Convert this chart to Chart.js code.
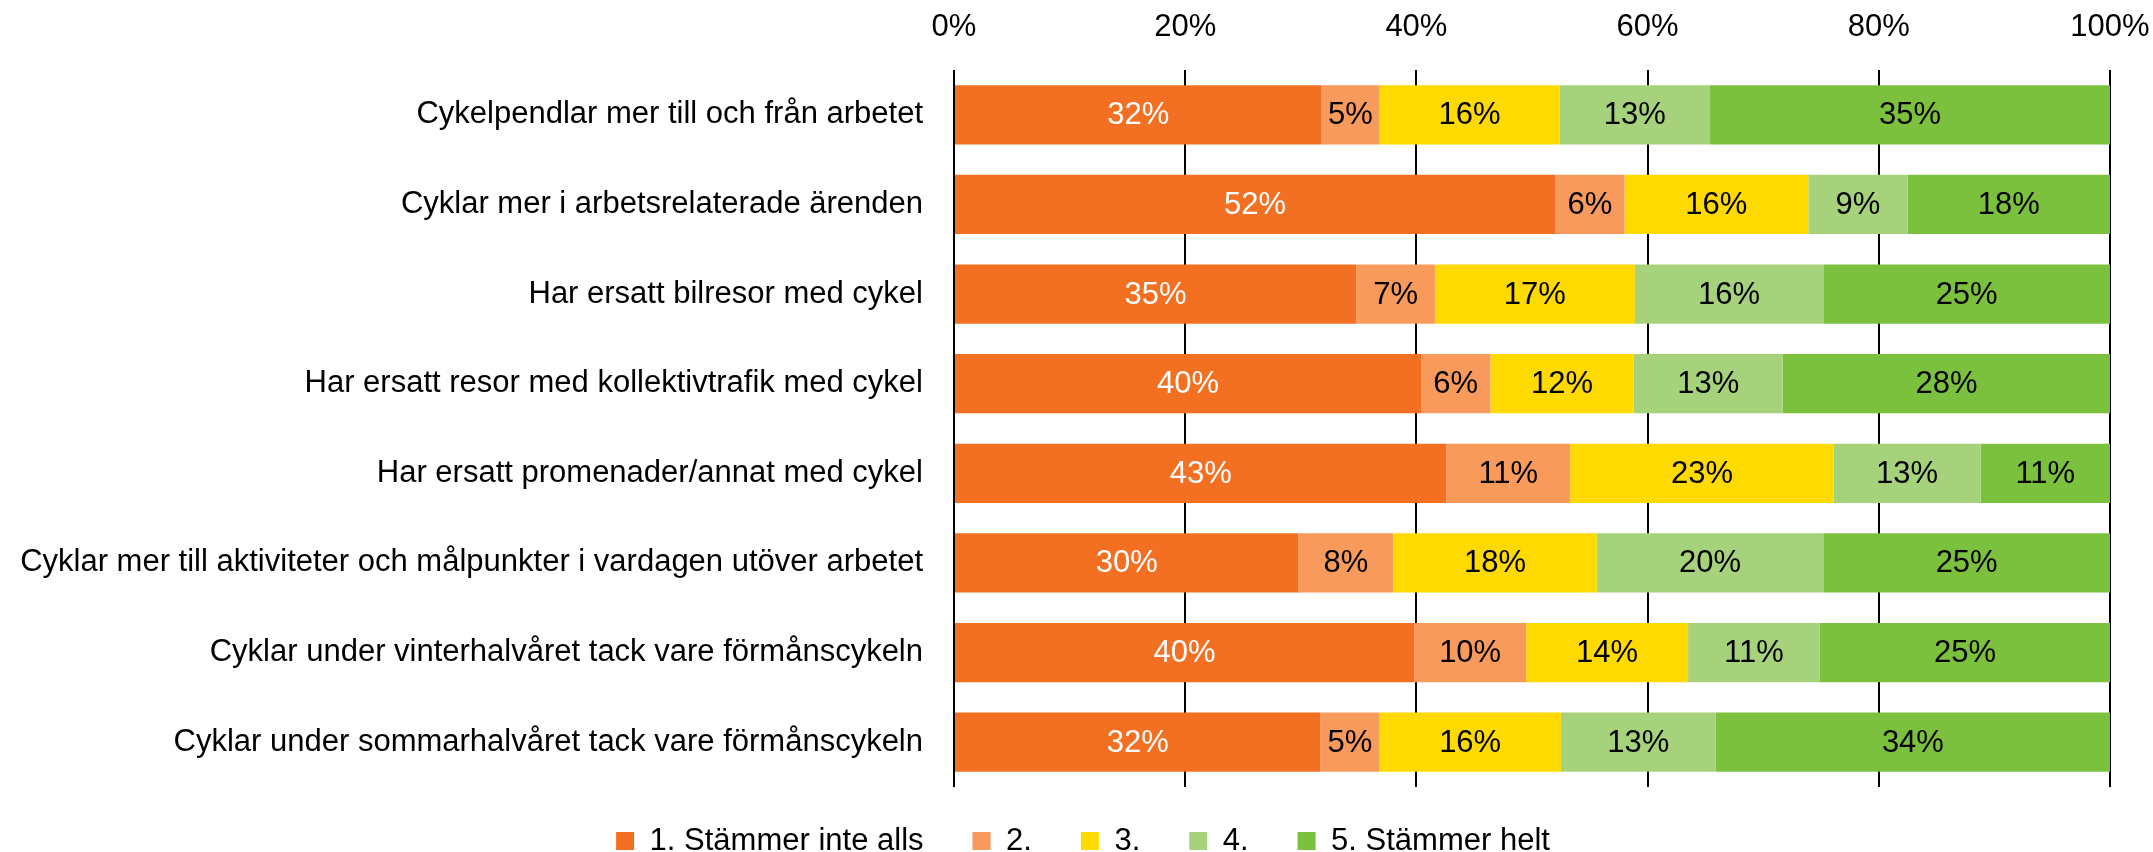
<!DOCTYPE html>
<html>
<head>
<meta charset="utf-8">
<script src="https://cdn.jsdelivr.net/npm/chart.js@4.4.1/dist/chart.umd.min.js"></script>
<style>
html,body{margin:0;padding:0;background:#fff;}
#wrap{width:2153px;height:852px;}
</style>
</head>
<body>
<div id="wrap"><canvas id="c" width="2153" height="852"></canvas></div>
<script>
const categories = [
  'Cykelpendlar mer till och från arbetet',
  'Cyklar mer i arbetsrelaterade ärenden',
  'Har ersatt bilresor med cykel',
  'Har ersatt resor med kollektivtrafik med cykel',
  'Har ersatt promenader/annat med cykel',
  'Cyklar mer till aktiviteter och målpunkter i vardagen utöver arbetet',
  'Cyklar under vinterhalvåret tack vare förmånscykeln',
  'Cyklar under sommarhalvåret tack vare förmånscykeln'
];
const seriesNames = ['1. Stämmer inte alls', '2.', '3.', '4.', '5. Stämmer helt'];
const s1 = [31.8, 52.0, 34.8, 40.4, 42.6, 29.8, 39.8, 31.7];
const s2 = [5.0, 6.0, 6.8, 6.0, 10.7, 8.2, 9.7, 5.1];
const s3 = [15.6, 15.9, 17.3, 12.4, 22.8, 17.6, 14.0, 15.7];
const s4 = [13.0, 8.6, 16.3, 12.9, 12.7, 19.6, 11.4, 13.4];
const s5 = [34.6, 17.5, 24.8, 28.3, 11.2, 24.8, 25.1, 34.1];
const tickLabels = ['0%', '20%', '40%', '60%', '80%', '100%'];
const colors = ['#F37022', '#F79A5B', '#FFDA00', '#A6D27B', '#7CC13E'];
const labelColors = ['#FFFFFF', '#000000', '#000000', '#000000', '#000000'];

const FONT = '"Liberation Sans", Arial, sans-serif';
const FS = 31;
const seriesValues = [s1, s2, s3, s4, s5];

const datasets = seriesValues.map((vals, i) => ({
  label: seriesNames[i],
  data: vals,
  backgroundColor: colors[i],
  borderWidth: 0,
  barPercentage: 0.66,
  categoryPercentage: 1.0
}));

const valueLabels = {
  id: 'valueLabels',
  afterDatasetsDraw(chart) {
    const ctx = chart.ctx;
    ctx.save();
    ctx.font = FS + 'px ' + FONT;
    ctx.textAlign = 'center';
    ctx.textBaseline = 'middle';
    chart.data.datasets.forEach((ds, di) => {
      const meta = chart.getDatasetMeta(di);
      meta.data.forEach((bar, i) => {
        const p = bar.getProps(['x', 'y', 'base'], true);
        ctx.fillStyle = labelColors[di];
        ctx.fillText(Math.round(ds.data[i]) + '%', (p.x + p.base) / 2, p.y + 1);
      });
    });
    ctx.restore();
  }
};

const LEGEND_PAD = 49;
const LEGEND_CENTER_X = 1083;
const LEGEND_CENTER_Y = 841;
const legendShift = {
  id: 'legendShift',
  afterLayout(chart) {
    const lg = chart.legend;
    if (!lg) return;
    lg.top = LEGEND_CENTER_Y - FS / 2 - LEGEND_PAD;
    lg.bottom = 852;
    lg.height = lg.bottom - lg.top;
    lg.left = 0;
    lg.right = 2 * LEGEND_CENTER_X;
    lg.width = lg.right - lg.left;
  }
};

new Chart(document.getElementById('c'), {
  type: 'bar',
  data: { labels: categories, datasets: datasets },
  options: {
    indexAxis: 'y',
    responsive: false,
    devicePixelRatio: 1,
    animation: false,
    layout: { padding: { left: 0, right: 43, top: 0, bottom: 0 } },
    scales: {
      x: {
        position: 'top',
        stacked: true,
        min: 0,
        max: 100,
        afterFit(axis) { axis.height = 70; axis.paddingRight = 0; axis.paddingLeft = 0; },
        ticks: {
          stepSize: 20,
          padding: 24,
          color: '#000',
          font: { family: FONT, size: FS },
          callback: (v, idx) => tickLabels[idx]
        },
        grid: { color: '#000', lineWidth: 2, drawTicks: false },
        border: { display: false }
      },
      y: {
        stacked: true,
        afterFit(axis) { axis.width = 954; axis.paddingTop = 0; axis.paddingBottom = 0; },
        ticks: {
          padding: 31,
          color: '#000',
          font: { family: FONT, size: FS }
        },
        grid: { display: false, drawTicks: false },
        border: { display: false }
      }
    },
    plugins: {
      tooltip: { enabled: false },
      legend: {
        position: 'bottom',
        maxHeight: 65,
        labels: {
          boxWidth: 18,
          boxHeight: 18,
          padding: LEGEND_PAD,
          color: '#000',
          font: { family: FONT, size: FS }
        }
      }
    }
  },
  plugins: [valueLabels, legendShift]
});
</script>
</body>
</html>
